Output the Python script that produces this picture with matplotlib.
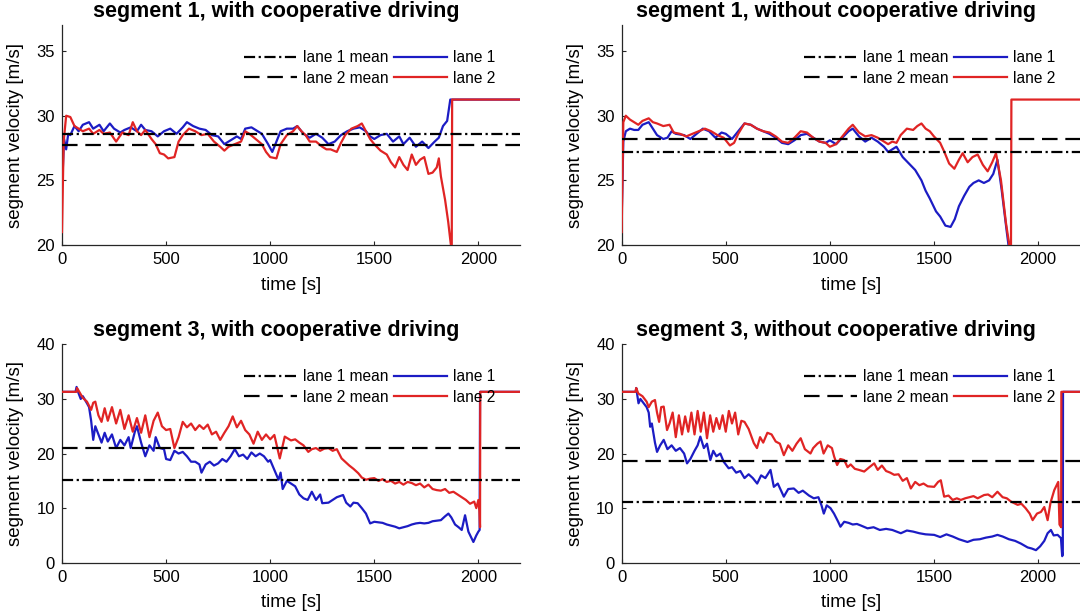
import matplotlib
matplotlib.use('Agg')
import matplotlib.pyplot as plt
import numpy as np

plt.rcParams['font.family'] = ['Liberation Sans', 'DejaVu Sans']

# (time [s], velocity [m/s]), one list per series
seg1_coop_lane1 = [(3, 25.5), (10, 28.2), (20, 27.4), (30, 28.6), (40, 28.5), (60, 29.2), (80, 28.8), (100, 29.3), (130, 29.5),
                   (150, 29.0), (180, 29.3), (200, 28.8), (230, 29.4), (250, 29.0), (280, 28.7), (300, 28.9), (330, 29.1),
                   (360, 28.8), (380, 29.3), (400, 28.9), (430, 28.8), (460, 28.4), (490, 28.8), (520, 29.0), (550, 28.6),
                   (580, 29.1), (600, 29.5), (630, 29.2), (660, 29.0), (690, 28.9), (720, 28.5), (750, 28.4), (780, 27.8),
                   (810, 28.1), (840, 28.4), (860, 28.2), (880, 29.0), (910, 29.1), (940, 28.8), (960, 28.6), (990, 27.8),
                   (1010, 27.2), (1030, 28.0), (1050, 28.8), (1080, 29.0), (1110, 29.0), (1130, 29.2), (1160, 28.6),
                   (1190, 28.3), (1220, 28.6), (1250, 28.3), (1280, 27.8), (1310, 28.0), (1340, 28.5), (1370, 28.8),
                   (1400, 29.0), (1430, 29.1), (1460, 28.8), (1480, 28.4), (1500, 28.2), (1530, 28.5), (1560, 28.6),
                   (1590, 28.0), (1620, 28.4), (1640, 27.8), (1670, 28.3), (1700, 27.6), (1730, 28.0), (1760, 27.5),
                   (1790, 28.0), (1810, 28.3), (1830, 29.2), (1850, 29.6), (1865, 31.25), (2200, 31.25)]
seg1_coop_lane2 = [(0, 21.0), (8, 28.0), (20, 30.0), (40, 29.9), (60, 29.2), (80, 29.0), (100, 28.8), (130, 29.0), (150, 28.6),
                   (180, 28.9), (200, 28.6), (230, 28.7), (260, 28.0), (290, 28.7), (320, 28.5), (340, 29.5), (360, 28.8),
                   (380, 28.5), (400, 28.9), (430, 28.2), (450, 27.8), (470, 27.1), (490, 27.0), (510, 26.7), (540, 26.8),
                   (560, 28.0), (580, 28.5), (610, 29.0), (640, 28.8), (670, 28.5), (700, 28.6), (730, 28.0), (760, 27.6),
                   (780, 27.3), (800, 27.6), (830, 27.8), (860, 28.0), (880, 28.8), (900, 28.6), (930, 28.2), (960, 27.8),
                   (980, 27.2), (1000, 26.8), (1030, 26.7), (1050, 27.8), (1080, 28.5), (1110, 28.8), (1130, 29.2),
                   (1150, 28.8), (1170, 28.5), (1190, 28.0), (1220, 28.0), (1250, 27.6), (1270, 27.4), (1290, 27.4),
                   (1320, 27.2), (1340, 27.9), (1360, 28.5), (1390, 29.0), (1420, 29.2), (1440, 29.4), (1460, 28.8),
                   (1480, 28.2), (1500, 27.8), (1530, 27.3), (1560, 27.0), (1580, 26.4), (1600, 26.0), (1620, 26.8),
                   (1640, 26.2), (1660, 25.8), (1680, 27.0), (1700, 26.2), (1720, 26.6), (1740, 26.8), (1760, 25.5),
                   (1780, 25.6), (1800, 26.0), (1810, 26.7), (1820, 25.3), (1840, 23.5), (1855, 21.8), (1865, 20.4),
                   (1872, 19.5), (1874, 31.25), (2200, 31.25)]

seg1_nocoop_lane1 = [(0, 22.0), (8, 28.0), (20, 28.8), (40, 29.0), (60, 28.9), (80, 28.9), (100, 29.3), (130, 29.5), (150, 29.0),
                     (170, 28.5), (200, 28.2), (220, 28.3), (240, 28.8), (260, 28.6), (300, 28.5), (330, 28.2), (360, 28.6),
                     (390, 29.0), (420, 28.8), (450, 28.3), (480, 28.7), (500, 28.6), (530, 28.2), (560, 28.8), (590, 29.4),
                     (620, 29.3), (650, 29.0), (680, 28.8), (710, 28.6), (740, 28.3), (770, 27.9), (800, 27.8), (830, 28.1),
                     (860, 28.5), (890, 28.6), (920, 28.3), (950, 28.0), (980, 27.9), (1000, 28.1), (1030, 27.8), (1060, 28.3),
                     (1090, 28.8), (1110, 29.0), (1140, 28.4), (1170, 28.0), (1200, 28.3), (1230, 28.0), (1260, 27.6),
                     (1280, 27.2), (1300, 27.4), (1320, 27.6), (1350, 26.8), (1380, 26.3), (1410, 25.8), (1440, 25.0),
                     (1460, 24.2), (1480, 23.6), (1510, 22.6), (1530, 22.2), (1555, 21.5), (1580, 21.4), (1600, 22.0),
                     (1620, 23.0), (1645, 23.8), (1670, 24.5), (1690, 24.8), (1715, 25.0), (1740, 24.8), (1765, 25.0),
                     (1785, 25.5), (1805, 26.6), (1825, 24.3), (1850, 21.0), (1862, 19.5)]
seg1_nocoop_lane2 = [(0, 21.0), (8, 29.5), (20, 30.0), (40, 29.7), (60, 29.5), (80, 29.3), (100, 29.6), (130, 29.8), (150, 29.5),
                     (170, 29.4), (200, 29.2), (230, 29.3), (250, 28.7), (280, 28.6), (310, 28.4), (340, 28.6), (370, 28.8),
                     (400, 29.0), (430, 28.8), (460, 28.5), (490, 28.3), (520, 27.7), (540, 27.9), (560, 28.6), (590, 29.4),
                     (620, 29.3), (650, 29.0), (680, 28.8), (710, 28.7), (740, 28.4), (770, 28.0), (800, 27.9), (830, 28.3),
                     (860, 28.8), (890, 28.7), (920, 28.3), (950, 28.0), (980, 27.9), (1000, 27.6), (1030, 27.8), (1060, 28.4),
                     (1090, 29.0), (1110, 29.3), (1140, 28.7), (1170, 28.4), (1200, 28.5), (1230, 28.3), (1260, 28.0),
                     (1280, 27.8), (1300, 28.0), (1320, 27.9), (1340, 28.5), (1370, 29.0), (1400, 28.9), (1420, 29.2),
                     (1440, 29.4), (1460, 29.0), (1480, 28.8), (1500, 28.4), (1530, 27.9), (1550, 27.2), (1573, 26.3),
                     (1598, 25.9), (1620, 26.6), (1638, 27.1), (1662, 26.4), (1685, 26.8), (1710, 27.0), (1735, 26.2),
                     (1758, 25.7), (1780, 26.4), (1798, 27.1), (1822, 25.0), (1846, 21.7), (1862, 20.0), (1870, 19.5),
                     (1872, 31.25), (2200, 31.25)]

seg3_coop_lane1 = [(0, 31.3), (65, 31.3), (70, 32.2), (80, 31.0), (90, 30.0), (100, 30.5), (120, 29.2), (130, 28.5), (140, 26.0),
                   (150, 22.5), (160, 25.0), (175, 23.5), (190, 22.0), (205, 23.8), (220, 22.2), (240, 23.5), (260, 21.0),
                   (280, 22.5), (300, 21.5), (320, 23.0), (330, 21.0), (350, 24.0), (360, 25.0), (380, 22.0), (400, 19.5),
                   (420, 21.5), (440, 20.5), (450, 23.0), (470, 21.0), (490, 20.8), (500, 19.0), (520, 18.8), (540, 20.5),
                   (560, 20.0), (580, 20.3), (600, 19.5), (620, 18.5), (640, 18.5), (660, 18.0), (670, 16.5), (690, 18.0),
                   (710, 18.5), (730, 17.8), (750, 18.2), (770, 19.0), (790, 18.5), (810, 19.5), (830, 20.8), (850, 19.5),
                   (870, 19.8), (890, 19.0), (910, 20.2), (930, 19.5), (950, 20.0), (970, 19.5), (990, 18.5), (1000, 18.8),
                   (1020, 17.0), (1040, 15.2), (1050, 16.5), (1060, 13.5), (1080, 15.0), (1100, 14.5), (1120, 14.0),
                   (1140, 12.5), (1160, 11.8), (1180, 11.5), (1200, 13.0), (1220, 11.5), (1240, 12.5), (1250, 10.9),
                   (1280, 11.0), (1300, 11.5), (1320, 12.0), (1350, 12.4), (1365, 11.0), (1385, 10.3), (1400, 11.0),
                   (1420, 10.9), (1440, 10.0), (1460, 9.0), (1480, 7.2), (1500, 7.5), (1520, 7.4), (1540, 7.3), (1560, 7.0),
                   (1580, 6.8), (1600, 6.6), (1620, 6.3), (1640, 6.5), (1660, 6.7), (1680, 7.0), (1700, 7.2), (1720, 7.3),
                   (1740, 7.2), (1760, 7.3), (1780, 7.6), (1800, 7.7), (1820, 7.8), (1840, 8.5), (1856, 9.0), (1870, 8.3),
                   (1888, 7.0), (1905, 6.5), (1920, 6.0), (1936, 8.7), (1952, 5.7), (1976, 3.8), (1990, 5.0), (2000, 5.7),
                   (2006, 6.0), (2008, 31.3), (2200, 31.3)]
seg3_coop_lane2 = [(0, 31.3), (70, 31.3), (72, 32.0), (80, 31.5), (100, 30.2), (120, 29.5), (140, 28.0), (150, 29.3), (160, 29.5),
                   (175, 27.0), (190, 25.8), (205, 28.3), (220, 26.0), (240, 28.5), (260, 25.5), (280, 28.0), (300, 24.5),
                   (320, 27.0), (340, 24.0), (360, 26.5), (380, 23.8), (400, 27.0), (420, 23.0), (440, 26.0), (460, 27.5),
                   (480, 25.0), (500, 24.3), (520, 24.5), (540, 21.0), (560, 23.0), (580, 25.8), (600, 24.8), (620, 25.5),
                   (640, 24.3), (660, 25.2), (680, 24.5), (700, 25.3), (720, 23.5), (740, 24.0), (760, 22.5), (780, 23.8),
                   (800, 25.0), (820, 26.8), (840, 24.8), (860, 26.0), (880, 24.3), (900, 23.5), (920, 21.8), (940, 24.0),
                   (960, 22.5), (980, 23.5), (1000, 22.6), (1020, 23.4), (1046, 19.1), (1070, 23.1), (1100, 22.4),
                   (1120, 22.6), (1140, 22.0), (1160, 21.5), (1183, 20.3), (1200, 20.8), (1220, 21.0), (1240, 20.5),
                   (1260, 20.9), (1280, 21.0), (1300, 20.5), (1320, 20.8), (1343, 19.1), (1360, 18.5), (1380, 17.8),
                   (1400, 17.2), (1423, 16.4), (1440, 15.6), (1460, 15.2), (1480, 15.4), (1500, 15.5), (1520, 15.0),
                   (1540, 15.3), (1560, 14.8), (1580, 15.0), (1600, 14.5), (1620, 14.8), (1640, 14.3), (1660, 14.8),
                   (1680, 14.6), (1700, 14.2), (1720, 14.5), (1740, 13.8), (1760, 14.3), (1780, 13.5), (1800, 13.3),
                   (1820, 13.2), (1840, 13.5), (1860, 12.8), (1880, 13.0), (1900, 12.5), (1920, 12.0), (1940, 11.5),
                   (1960, 10.8), (1980, 11.2), (1990, 10.0), (2000, 11.5), (2005, 9.5), (2008, 6.5), (2009, 31.3),
                   (2200, 31.3)]

seg3_nocoop_lane1 = [(0, 31.3), (67, 31.3), (70, 32.0), (81, 29.2), (90, 30.0), (100, 29.5), (120, 28.5), (130, 27.5), (137, 24.9),
                     (145, 25.5), (160, 22.0), (170, 20.3), (185, 21.5), (202, 22.5), (220, 20.8), (240, 21.5), (260, 20.5),
                     (280, 21.0), (300, 20.0), (314, 18.2), (330, 19.0), (350, 20.5), (365, 21.5), (378, 23.1), (395, 21.0),
                     (410, 21.8), (426, 18.8), (440, 20.5), (455, 19.5), (474, 20.0), (490, 18.5), (514, 17.3), (530, 17.5),
                     (550, 16.5), (570, 16.8), (590, 15.5), (610, 16.2), (630, 15.5), (651, 14.5), (670, 16.0), (690, 15.5),
                     (715, 17.0), (731, 13.9), (750, 14.5), (779, 12.1), (800, 13.5), (827, 13.6), (850, 12.8), (870, 13.2),
                     (900, 12.3), (923, 11.8), (945, 12.0), (960, 10.5), (971, 9.0), (985, 10.5), (1003, 10.0), (1020, 9.0),
                     (1040, 7.5), (1051, 6.6), (1069, 7.5), (1090, 7.3), (1110, 7.0), (1130, 7.1), (1150, 6.8), (1181, 6.3),
                     (1210, 6.5), (1240, 6.0), (1270, 6.2), (1300, 6.0), (1341, 5.4), (1370, 5.9), (1400, 5.7), (1430, 5.4),
                     (1460, 5.2), (1501, 5.1), (1530, 4.7), (1560, 5.2), (1590, 4.8), (1620, 4.3), (1661, 3.8), (1690, 4.2),
                     (1720, 4.3), (1750, 4.6), (1780, 4.8), (1805, 5.1), (1830, 4.8), (1860, 4.3), (1890, 4.0), (1918, 3.5),
                     (1950, 2.8), (1970, 2.6), (1990, 2.3), (2010, 3.0), (2030, 4.0), (2046, 5.4), (2062, 6.0), (2075, 5.0),
                     (2094, 5.1), (2110, 4.5), (2116, 1.2), (2119, 1.5), (2120, 31.3), (2200, 31.3)]
seg3_nocoop_lane2 = [(0, 31.3), (67, 31.3), (70, 32.0), (80, 31.0), (100, 30.5), (120, 29.5), (130, 28.5), (145, 29.5), (160, 29.8),
                     (170, 27.5), (180, 25.8), (190, 28.5), (202, 28.6), (218, 24.3), (230, 25.5), (245, 27.5), (260, 23.0),
                     (275, 27.0), (290, 23.5), (305, 26.8), (320, 24.0), (335, 27.5), (350, 23.5), (365, 27.8), (380, 24.0),
                     (395, 27.5), (410, 22.8), (425, 27.0), (440, 24.0), (455, 26.5), (470, 24.5), (485, 27.0), (500, 24.0),
                     (515, 27.8), (530, 25.5), (545, 27.5), (560, 23.5), (575, 26.0), (590, 25.8), (610, 24.5), (635, 21.9),
                     (650, 21.0), (665, 23.0), (680, 22.0), (700, 23.8), (720, 23.5), (740, 22.2), (760, 21.8), (779, 19.7),
                     (800, 21.5), (820, 20.5), (840, 21.8), (860, 22.8), (880, 20.8), (907, 20.0), (920, 21.0), (940, 21.8),
                     (955, 22.2), (970, 20.0), (990, 21.5), (1010, 21.0), (1021, 19.4), (1035, 17.9), (1050, 19.0),
                     (1069, 18.8), (1085, 17.5), (1100, 18.0), (1120, 17.2), (1140, 17.0), (1165, 16.7), (1190, 17.5),
                     (1213, 18.2), (1230, 17.0), (1250, 17.8), (1270, 16.8), (1290, 16.5), (1309, 16.1), (1330, 16.2),
                     (1350, 15.0), (1370, 15.5), (1389, 13.6), (1410, 14.8), (1430, 14.2), (1450, 14.5), (1470, 14.0),
                     (1501, 13.9), (1520, 14.8), (1533, 15.1), (1549, 12.1), (1570, 12.3), (1590, 11.5), (1610, 11.8),
                     (1629, 11.5), (1650, 11.8), (1670, 12.0), (1690, 12.2), (1710, 11.8), (1741, 12.4), (1760, 12.5),
                     (1780, 12.0), (1805, 13.0), (1830, 12.0), (1850, 11.8), (1870, 11.2), (1902, 10.6), (1920, 10.8),
                     (1940, 10.0), (1960, 9.0), (1974, 7.8), (1995, 9.0), (2014, 9.3), (2030, 10.2), (2046, 7.8),
                     (2060, 11.0), (2078, 13.3), (2097, 14.8), (2103, 7.0), (2111, 6.5), (2112, 31.3), (2200, 31.3)]

titles = ['segment 1, with cooperative driving', 'segment 1, without cooperative driving',
          'segment 3, with cooperative driving', 'segment 3, without cooperative driving']
lane1_means = [28.58, 27.17, 15.16, 11.14]
lane2_means = [27.77, 28.19, 20.94, 18.69]
lane1_series = [seg1_coop_lane1, seg1_nocoop_lane1, seg3_coop_lane1, seg3_nocoop_lane1]
lane2_series = [seg1_coop_lane2, seg1_nocoop_lane2, seg3_coop_lane2, seg3_nocoop_lane2]
ylims = [(20, 37), (20, 37), (0, 40), (0, 40)]
yticks = [[20, 25, 30, 35], [20, 25, 30, 35], [0, 10, 20, 30, 40], [0, 10, 20, 30, 40]]
xticks = [0, 500, 1000, 1500, 2000]

BLUE = '#1c1cc4'
RED = '#e02424'
AX = '#262626'

fig = plt.figure(figsize=(10.8, 6.15), dpi=100)
positions = [
    [0.0574, 0.6016, 0.4241, 0.3574],
    [0.5756, 0.6016, 0.4241, 0.3574],
    [0.0574, 0.0850, 0.4241, 0.3551],
    [0.5756, 0.0850, 0.4241, 0.3551],
]

for i, pos in enumerate(positions):
    ax = fig.add_axes(pos)
    t1, v1 = np.array(lane1_series[i]).T
    t2, v2 = np.array(lane2_series[i]).T
    l1, = ax.plot(t1, v1, color=BLUE, lw=1.6, label='lane 1', zorder=2)
    l2, = ax.plot(t2, v2, color=RED, lw=1.6, label='lane 2', zorder=3)
    m1 = ax.axhline(lane1_means[i], color='black', lw=1.6, dashes=(5, 1.6, 1, 1.6), label='lane 1 mean', zorder=4)
    m2 = ax.axhline(lane2_means[i], color='black', lw=1.6, dashes=(7, 3.5), label='lane 2 mean', zorder=4)

    ax.set_xlim(0, 2200)
    ax.set_ylim(*ylims[i])
    ax.set_xticks(xticks)
    ax.set_yticks(yticks[i])
    for s in ['top', 'right']:
        ax.spines[s].set_visible(False)
    for s in ['left', 'bottom']:
        ax.spines[s].set_color(AX)
        ax.spines[s].set_linewidth(0.9)
    ax.tick_params(direction='in', length=3, width=0.8, color=AX, labelsize=12, pad=5)
    ax.set_xlabel('time [s]', fontsize=13.5, labelpad=7)
    ax.set_ylabel('segment velocity [m/s]', fontsize=13.5, labelpad=9)
    ax.set_title(titles[i], fontsize=15.5, fontweight='bold', pad=6, x=0.467)

    ax.legend(handles=[m1, m2, l1, l2], ncol=2, loc='upper right', bbox_to_anchor=(0.947, 0.885),
              frameon=False, fontsize=11.2, handlelength=3.4, handletextpad=0.4, columnspacing=0.35,
              labelspacing=0.35, borderaxespad=0, borderpad=0)

fig.savefig('out.png', dpi=100)
